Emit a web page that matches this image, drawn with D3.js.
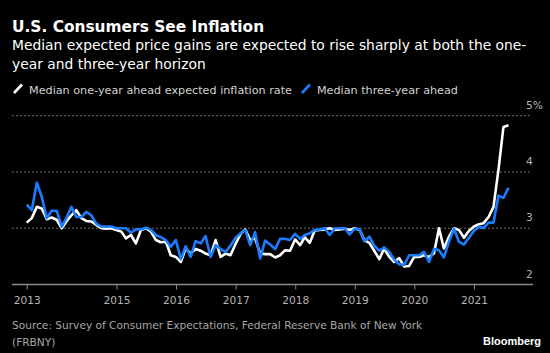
<!DOCTYPE html>
<html>
<head>
<meta charset="utf-8">
<script src="https://cdn.jsdelivr.net/npm/d3@7"></script>
<style>
  html, body { margin: 0; padding: 0; background: #000; }
  svg { display: block; font-family: "DejaVu Sans", sans-serif; }
</style>
</head>
<body>
<div id="chart"></div>
<script>
// Monthly survey values, Jun 2013 .. Jul 2021
const startYear = 2013, startMonth = 5; // June
const oneYear = [
  3.10, 3.18, 3.38, 3.35, 3.16, 3.19, 3.15, 3.00, 3.12, 3.23, 3.32, 3.18, 3.13, 3.12,
  3.06, 3.00, 2.99, 3.00, 2.97, 2.94, 2.82, 2.88, 2.73, 2.97, 3.00, 2.94, 2.79, 2.75,
  2.76, 2.52, 2.49, 2.40, 2.64, 2.55, 2.63, 2.60, 2.55, 2.52, 2.79, 2.49, 2.55, 2.52,
  2.72, 2.90, 2.98, 2.79, 2.82, 2.55, 2.54, 2.54, 2.48, 2.52, 2.61, 2.60, 2.80, 2.70,
  2.84, 2.74, 2.96, 2.97, 2.98, 3.00, 2.97, 2.98, 2.99, 2.97, 3.00, 2.97, 2.79, 2.74,
  2.60, 2.45, 2.64, 2.49, 2.40, 2.47, 2.32, 2.33, 2.49, 2.49, 2.52, 2.49, 2.55, 3.00,
  2.64, 2.85, 3.00, 2.97, 2.83, 2.95, 3.03, 3.07, 3.09, 3.20, 3.38, 4.05, 4.80, 4.83
];
const threeYear = [
  3.42, 3.32, 3.81, 3.56, 3.18, 3.31, 3.31, 3.03, 3.18, 3.38, 3.20, 3.20, 3.29, 3.23,
  3.08, 3.03, 3.03, 3.03, 3.00, 3.00, 3.00, 2.92, 2.98, 2.98, 3.01, 2.97, 2.88, 2.84,
  2.79, 2.67, 2.79, 2.45, 2.68, 2.49, 2.77, 2.73, 2.86, 2.49, 2.70, 2.63, 2.58, 2.69,
  2.83, 2.91, 2.97, 2.70, 2.93, 2.46, 2.78, 2.71, 2.63, 2.81, 2.81, 2.79, 2.90, 2.81,
  2.88, 2.91, 2.97, 2.98, 3.00, 2.88, 3.00, 3.00, 3.00, 2.89, 2.99, 2.98, 2.77, 2.85,
  2.69, 2.60, 2.66, 2.58, 2.44, 2.36, 2.35, 2.52, 2.52, 2.52, 2.58, 2.40, 2.63, 2.61,
  2.48, 2.76, 2.99, 2.76, 2.71, 2.83, 2.95, 3.03, 3.00, 3.10, 3.10, 3.58, 3.54, 3.72
];
const yearTicks = [2015, 2016, 2017, 2018, 2019, 2020, 2021];
const yTicks = [2, 3, 4, 5];

const W = 550, H = 353;

// points sit at month end
const dates = oneYear.map((v, i) => new Date(startYear, startMonth + i + 1, 0));
const series = [
  { name: "Median one-year ahead expected inflation rate", color: "#ffffff", values: oneYear },
  { name: "Median three-year ahead", color: "#1a7cff", values: threeYear }
];

const svg = d3.select("#chart").append("svg")
  .attr("width", W)
  .attr("height", H);

svg.append("rect").attr("width", W).attr("height", H).attr("fill", "#000");

const x = d3.scaleTime()
  .domain([dates[0], dates[dates.length - 1]])
  .range([26.7, 508.5]);

const y = d3.scaleLinear()
  .domain([2, 5])
  .range([284.5, 115.7]);

// Title + subtitle
svg.append("text")
  .attr("x", 12).attr("y", 31.5)
  .style("font-size", "15.4px").style("font-weight", "bold").style("fill", "#fff")
  .text("U.S. Consumers See Inflation");

svg.append("text")
  .attr("x", 12).attr("y", 49.5)
  .style("font-size", "13.85px").style("fill", "#fff")
  .selectAll("tspan")
  .data(["Median expected price gains are expected to rise sharply at both the one-",
         "year and three-year horizon"])
  .enter().append("tspan")
  .attr("x", 12)
  .attr("dy", (d, i) => i ? 19 : 0)
  .text(d => d);

// Legend
const legend = svg.append("g").attr("transform", "translate(0,93.5)");
let lx = 14;
series.forEach(s => {
  legend.append("line")
    .attr("x1", lx).attr("y1", -0.5).attr("x2", lx + 8).attr("y2", -9)
    .attr("stroke", s.color).attr("stroke-width", 2.6);
  const t = legend.append("text")
    .attr("x", lx + 15).attr("y", 0)
    .style("font-size", "11.2px").style("fill", "#d2d2d2")
    .text(s.name);
  lx += 15 + t.node().getComputedTextLength() + 10;
});

// Gridlines
svg.append("g")
  .selectAll("line")
  .data(yTicks.filter(d => d > 2))
  .enter().append("line")
  .attr("x1", 12).attr("x2", 530)
  .attr("y1", d => y(d)).attr("y2", d => y(d))
  .attr("stroke", "#6e6e6e")
  .attr("stroke-width", 1)
  .attr("stroke-dasharray", "2,2");

// Y labels sit above their line
svg.append("g")
  .selectAll("text")
  .data(yTicks)
  .enter().append("text")
  .attr("x", 526)
  .attr("y", d => y(d) - 7)
  .style("font-size", "10.6px").style("fill", "#b4b4b4")
  .text(d => d === 5 ? d + "%" : d);

// X axis
const tickDates = [dates[0]].concat(yearTicks.map(yr => new Date(yr, 0, 1)));
const xAxis = svg.append("g")
  .attr("transform", `translate(0,${y(2)})`)
  .call(d3.axisBottom(x)
    .tickValues(tickDates)
    .tickSize(5)
    .tickPadding(7)
    .tickFormat(d => d === dates[0] ? String(startYear) : d.getFullYear()));
xAxis.select(".domain").remove();
xAxis.insert("line", ":first-child")
  .attr("x1", 12).attr("x2", 533)
  .attr("stroke", "#8c8c8c").attr("stroke-width", 1.5);
xAxis.selectAll(".tick line").attr("stroke", "#8c8c8c");
xAxis.selectAll(".tick text")
  .style("font-size", "10.6px").style("fill", "#b4b4b4")
  .style("font-family", "DejaVu Sans, sans-serif");

// Lines
const line = d3.line()
  .x((d, i) => x(dates[i]))
  .y(d => y(d));

svg.selectAll(".series")
  .data(series)
  .enter().append("path")
  .attr("class", "series")
  .attr("d", d => line(d.values))
  .attr("fill", "none")
  .attr("stroke", d => d.color)
  .attr("stroke-width", 2.6)
  .attr("stroke-linejoin", "round");

// Source + logo
svg.append("text")
  .attr("x", 12).attr("y", 329)
  .style("font-size", "10.6px").style("fill", "#a8a8a8")
  .selectAll("tspan")
  .data(["Source: Survey of Consumer Expectations, Federal Reserve Bank of New York", "(FRBNY)"])
  .enter().append("tspan")
  .attr("x", 12)
  .attr("dy", (d, i) => i ? 17 : 0)
  .text(d => d);

svg.append("text")
  .attr("x", 541).attr("y", 345)
  .attr("text-anchor", "end")
  .style("font-size", "11px").style("font-weight", "bold").style("fill", "#fff")
  .style("font-family", "Liberation Sans, Arial, sans-serif")
  .text("Bloomberg");
</script>
</body>
</html>
